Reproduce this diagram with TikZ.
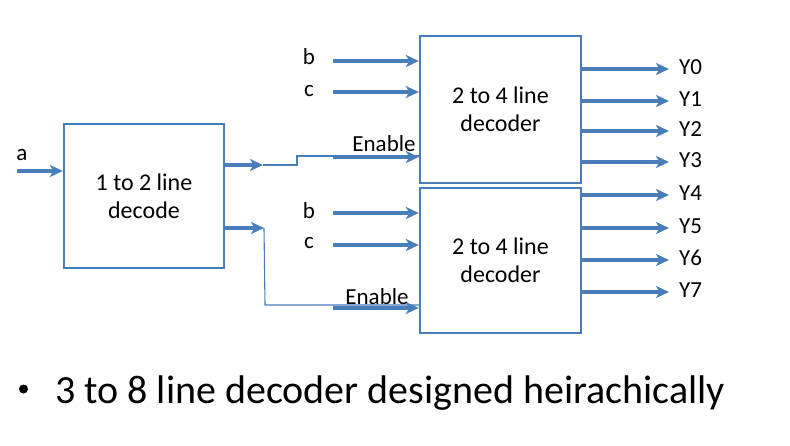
\documentclass[tikz,border=0pt]{standalone}
\usepackage{fontspec}
\setmainfont{Carlito}
\usetikzlibrary{arrows.meta}
\definecolor{lineblue}{RGB}{74,126,187}
\begin{document}
\begin{tikzpicture}[x=1pt,y=-1pt,
  blk/.style={draw=lineblue,line width=2.3pt,minimum width=#1,inner sep=0pt,align=center,font=\fontsize{24}{28}\selectfont},
  arr/.style={draw=lineblue,line width=3.2pt,-{Stealth[length=13pt,width=12pt,inset=3.5pt]}},
  thin/.style={draw=lineblue,line width=1.1pt},
  lbl/.style={font=\fontsize{23}{26}\selectfont,inner sep=0pt}]
\useasboundingbox (0,0) rectangle (790,446);
% boxes
\node[blk=160pt,minimum height=144pt] (dec1) at (144,196) {1 to 2 line\\decode};
\node[blk=161pt,minimum height=147pt] (top) at (500.5,109.5) {2 to 4 line\\decoder};
\node[blk=161pt,minimum height=145pt] (bot) at (500.5,260.5) {2 to 4 line\\decoder};
% input a
\coordinate (ain) at (17,171);
\draw[arr] (ain) -- (ain -| dec1.west);
\node[lbl] (la) at (22,155) {a};
% outputs of 1-to-2
\coordinate (o1) at (263,165);
\coordinate (o2) at (264,228);
\draw[arr] (o1 -| dec1.east) -- (o1);
\draw[arr] (o2 -| dec1.east) -- (o2);
\coordinate (s1) at (297,165);
\coordinate (s2) at (297,156);
\draw[thin] (o1) -- (s1) -- (s2) -- (s2 -| top.west);
\coordinate (d1) at (265,305);
\draw[thin] (o2) -- (d1) -- (d1 -| bot.west);
% inputs of top decoder
\coordinate (tb) at (333,61);
\coordinate (tc) at (333,92);
\coordinate (te) at (333,157);
\draw[arr] (tb) -- (tb -| top.west);
\draw[arr] (tc) -- (tc -| top.west);
\draw[arr] (te) -- (te -| top.west);
\node[lbl] (ltb) at (309,57) {b};
\node[lbl] (ltc) at (309,91) {c};
\node[lbl] (lte) at (384,144) {Enable};
% inputs of bottom decoder
\coordinate (bb) at (333,213);
\coordinate (bc) at (333,245);
\coordinate (be) at (333,308);
\draw[arr] (bb) -- (bb -| bot.west);
\draw[arr] (bc) -- (bc -| bot.west);
\draw[arr] (be) -- (be -| bot.west);
\node[lbl] (lbb) at (309,211) {b};
\node[lbl] (lbc) at (309,243) {c};
\node[lbl] (lbe) at (377,297) {Enable};
% outputs
\foreach \n/\yy/\bx in {0/69/top,1/101/top,2/131/top,3/162/top,4/195/bot,5/228/bot,6/260/bot,7/292/bot}{
  \coordinate (y\n) at (669,\yy);
  \draw[arr] (y\n -| \bx.east) -- (y\n);
  \node[lbl,anchor=west] (ly\n) at (679,\yy-2) {Y\n};
}
% caption
\fill (23.5,389) circle (4.5pt);
\node[anchor=base west,inner sep=0pt,font=\fontsize{40}{44}\selectfont] (cap) at (55,403) {3 to 8 line decoder designed heirachically};
\end{tikzpicture}
\end{document}
